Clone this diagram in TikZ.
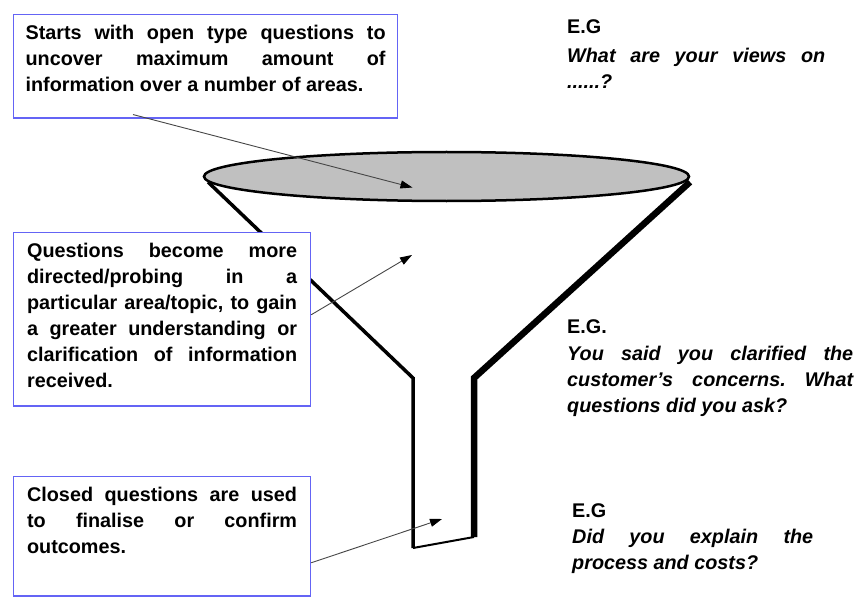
\documentclass[tikz,border=0pt]{standalone}
\usepackage{fontspec}
\setmainfont{Liberation Sans}
\usetikzlibrary{shapes.geometric, arrows.meta, positioning, calc}
\definecolor{boxBlue}{RGB}{100, 100, 245}
\definecolor{funnelGray}{RGB}{192, 192, 192}
\definecolor{pointerGray}{RGB}{70, 70, 70}
\hyphenpenalty=10000
\exhyphenpenalty=10000
\frenchspacing

\begin{document}
\begin{tikzpicture}[
        x=1pt, y=-1pt,
        note/.style={rectangle, draw=boxBlue, line width=1.2pt, fill=white, anchor=north west, align=justify, inner xsep=12pt, inner ysep=11pt, font=\fontsize{19.8}{26}\selectfont\bfseries},
        example/.style={anchor=north west, align=justify, inner sep=0pt, font=\fontsize{19.8}{26}\selectfont\bfseries},
        pointer/.style={-{Triangle[length=12pt, width=8pt, color=black]}, pointerGray, line width=0.9pt}
    ]
        \useasboundingbox (0,0) rectangle (865,607);

        % Funnel
        \draw[line width=3.5pt] (208,182) -- (413,378) -- (413,548);
        \draw[line width=6.5pt] (690,182) -- (474,378) -- (474,537);
        \draw[line width=2pt] (413,548) -- (474,537);
        \node[ellipse, draw, line width=2.5pt, fill=funnelGray, minimum width=485pt, minimum height=49pt, inner sep=0pt] (mouth) at (446.5,176.5) {};

        % Descriptions
        \node[note, text width=360pt, text depth=67pt] (open) at (13,14) {Starts with open type questions to\linebreak uncover maximum amount of\linebreak information over a number of areas.};
        \node[note, inner xsep=13.5pt, text width=270pt, text depth=137pt] (probe) at (13,232) {Questions become more\linebreak directed/probing in a\linebreak particular area/topic, to gain\linebreak a greater understanding or\linebreak clarification of information\linebreak received.};
        \node[note, inner xsep=13.5pt, text width=270pt, text depth=83pt] (closed) at (13,476) {Closed questions are used\linebreak to finalise or confirm\linebreak outcomes.};

        % Examples
        \node[example, text width=258pt] (eg1) at (567,19.4) {E.G\\[3pt]\itshape What are your views on\linebreak ......?};
        \node[example, text width=286pt] (eg2) at (567,319.4) {E.G.\\[1pt]\itshape You said you clarified the\linebreak customer's concerns. What\linebreak questions did you ask?};
        \node[example, text width=241pt] (eg3) at (572,503.4) {E.G\\\itshape Did you explain the\linebreak process and costs?};

        % Pointers
        \coordinate (openTip) at (412.5,187.5);
        \coordinate (probeTip) at (412,255);
        \coordinate (closedTip) at (442,519);
        \draw[pointer] ([xshift=120pt, yshift=4pt]open.south west) -- (openTip);
        \draw[pointer] ([yshift=4.5pt]probe.east) -- (probeTip);
        \draw[pointer] ([yshift=-26.5pt]closed.east) -- (closedTip);
    \end{tikzpicture}
\end{document}
